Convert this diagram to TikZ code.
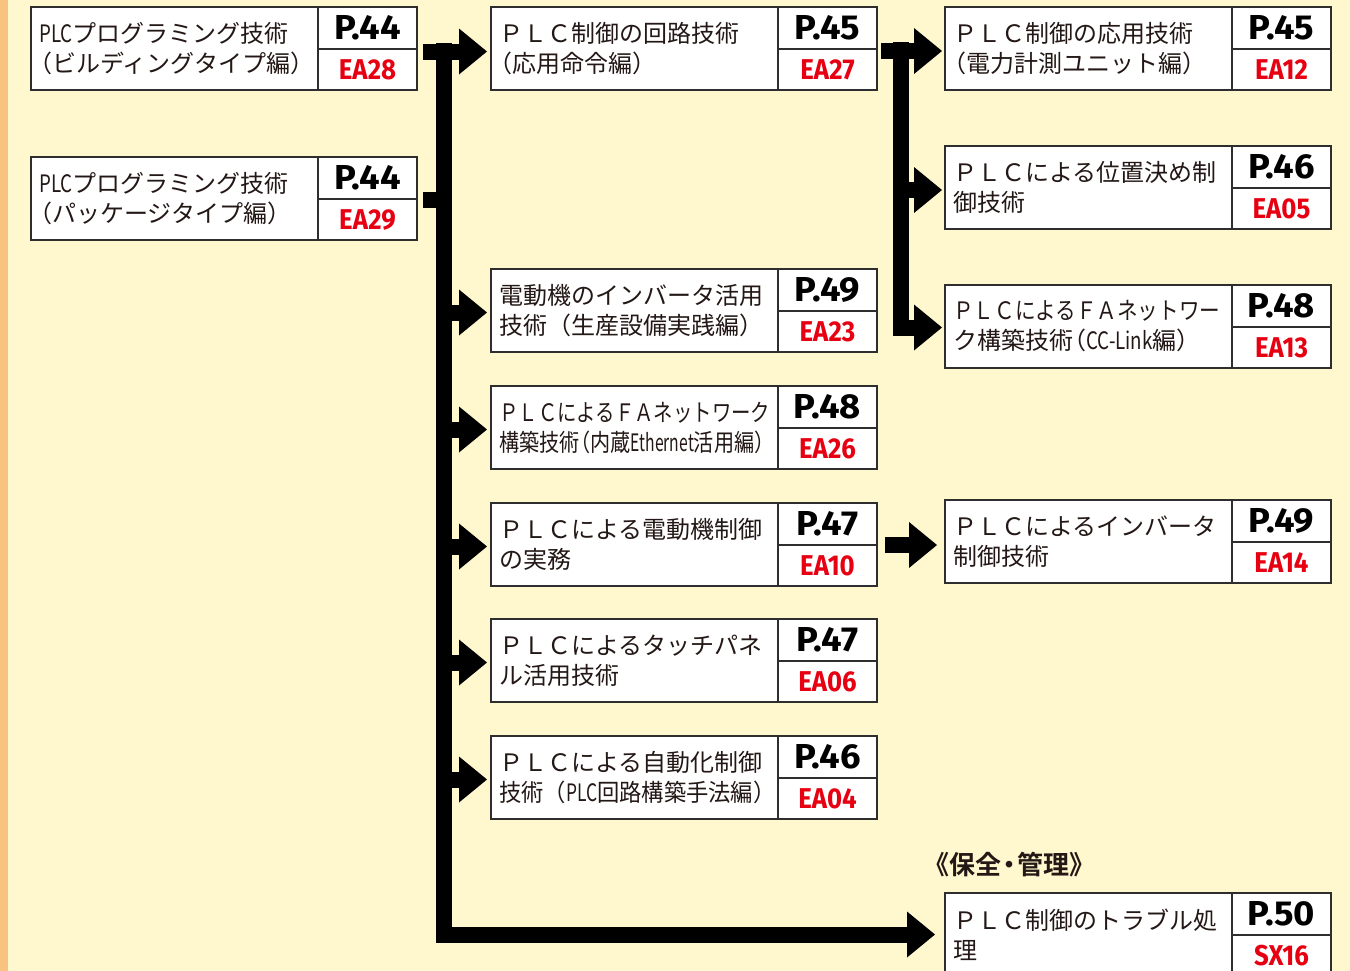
\documentclass[tikz,border=0pt]{standalone}
\usepackage{fontspec}
\setmainfont{Noto Sans CJK JP}[BoldFont={Noto Sans CJK JP Bold}]
\newfontfamily\pfont{Fira Sans}[FakeStretch=1.05]
\newfontfamily\efont{Fira Sans}[FakeStretch=0.9]
\usepackage{graphicx}
\usetikzlibrary{arrows.meta,calc}
\definecolor{bgc}{HTML}{FFF8CF}
\definecolor{stripec}{HTML}{F8C37E}
\definecolor{linec}{HTML}{2E2E2E}
\definecolor{txtc}{HTML}{231815}
\definecolor{redc}{HTML}{E60012}
\newdimen\pxu \pxu=0.75pt
\newcommand\fitw[2]{\resizebox{#1\pxu}{\height}{#2}}
\newcommand\latn[1]{\scalebox{0.78}[1]{#1}}
\newcommand\jlp{\makebox[9.75pt][r]{（}}
\newcommand\jrp{\makebox[9.75pt][l]{）}}
\newcommand\bookbox[7]{%
  \node[bx] (#1) at (#2) {};
  \draw[sp] ($(#1.north east)+(-99,0)$) -- ($(#1.south east)+(-99,0)$);
  \draw[sp] ($(#1.east)+(-99,0)$) -- (#1.east);
  \node[tx] (#1-t) at ($(#1.west)+(8,0)$) {#3\\#4};
  \node[pn] (#1-p) at ($(#1.north east)+(-49.5,20.5)$) {#5};
  \node[ea] (#1-e) at ($(#1.south east)+(-49.5,-20.5)$) {#6};
  #7%
}
\begin{document}
\begin{tikzpicture}[x=0.75pt,y=-0.75pt,
  bx/.style={draw=linec, line width=1.5pt, fill=white, rectangle, anchor=north west,
    minimum width=289.5pt, minimum height=62.25pt, inner sep=0pt, outer sep=0pt},
  sp/.style={draw=linec, line width=1.5pt},
  tx/.style={anchor=west, align=left, inner sep=0pt, text=txtc,
    font=\fontsize{18pt}{22.5pt}\selectfont},
  pn/.style={inner sep=0pt, text=black, font=\pfont\bfseries\fontsize{26pt}{26pt}\selectfont},
  ea/.style={inner sep=0pt, text=redc, font=\efont\bfseries\fontsize{21.5pt}{21.5pt}\selectfont},
  arr/.style={draw=black, line width=12pt, -{Triangle[length=21pt,width=34.5pt,line width=0pt]}},
  barline/.style={draw=black, line width=12pt},
  lab/.style={anchor=west, inner sep=0pt, text=txtc, font=\bfseries\fontsize{19.5pt}{19.5pt}\selectfont}
]
\fill[bgc] (0,0) rectangle (1350,971);
\fill[stripec] (0,0) rectangle (8,971);
\useasboundingbox (0,0) rectangle (1350,971);

% left column
\bookbox{L1}{31,7}{\latn{PLC}プログラミング技術}{\jlp ビルディングタイプ編\jrp}{P.44}{EA28}{}
\bookbox{L2}{31,157}{\latn{PLC}プログラミング技術}{\jlp パッケージタイプ編\jrp}{P.44}{EA29}{}
% middle column
\bookbox{M1}{491,7}{ＰＬＣ制御の回路技術}{\jlp 応用命令編\jrp}{P.45}{EA27}{}
\bookbox{M2}{491,269}{電動機のインバータ活用}{技術（生産設備実践編\jrp}{P.49}{EA23}{}
\bookbox{M3}{491,386}{\fitw{271}{ＰＬＣによるＦＡネットワーク}}{\fitw{266}{構築技術\jlp 内蔵\latn{Ethernet}活用編\jrp}}{P.48}{EA26}{}
\bookbox{M4}{491,503}{ＰＬＣによる電動機制御}{の実務}{P.47}{EA10}{}
\bookbox{M5}{491,619}{ＰＬＣによるタッチパネ}{ル活用技術}{P.47}{EA06}{}
\bookbox{M6}{491,736}{ＰＬＣによる自動化制御}{\fitw{266}{技術（\latn{PLC}回路構築手法編\jrp}}{P.46}{EA04}{}
% right column
\bookbox{R1}{945,7}{ＰＬＣ制御の応用技術}{\jlp 電力計測ユニット編\jrp}{P.45}{EA12}{}
\bookbox{R2}{945,146}{ＰＬＣによる位置決め制}{御技術}{P.46}{EA05}{}
\bookbox{R3}{945,285}{\fitw{267}{ＰＬＣによるＦＡネットワー}}{ク構築技術\jlp\latn{CC-Link}編\jrp}{P.48}{EA13}{}
\bookbox{R4}{945,500}{ＰＬＣによるインバータ}{制御技術}{P.49}{EA14}{}
\bookbox{R5}{945,893}{ＰＬＣ制御のトラブル処}{理}{P.50}{SX16}{}

\node[lab] (cat) at ($(R5.north west)+(-13,-28)$) {\makebox[13pt][r]{《}保全\makebox[12pt][c]{・}管理\makebox[13pt][l]{》}};

% main trunk
\coordinate (tk) at ($(L1.east)+(27,-5.5)$);
\draw[arr] ($(L1.east)+(6,3)$) -- ($(M1.west)+(-4,3)$);
\draw[arr] (tk) |- ($(R5.west)+(-10,0)$);
\draw[barline] ($(L2.east)+(6,1.5)$) -- ($(L2.east -| tk)+(0,1.5)$);
\foreach \m in {M2,M3,M4,M5,M6}{
  \draw[arr] ($(tk |- \m.west)+(0,2)$) -- ($(\m.west)+(-4,2)$);
}
% right trunk
\coordinate (rt) at ($(M1.east)+(24,-6.5)$);
\draw[arr] ($(M1.east)+(4,2.5)$) -- ($(R1.west)+(-3,2.5)$);
\draw[arr] (rt) |- ($(R3.west)+(-3,1)$);
\draw[arr] ($(rt |- R2.west)+(0,2.5)$) -- ($(R2.west)+(-3,2.5)$);
% M4 -> R4
\draw[arr] ($(M4.east)+(8,0.5)$) -- ($(R4.west |- M4.east)+(-8,0.5)$);
\end{tikzpicture}
\end{document}
